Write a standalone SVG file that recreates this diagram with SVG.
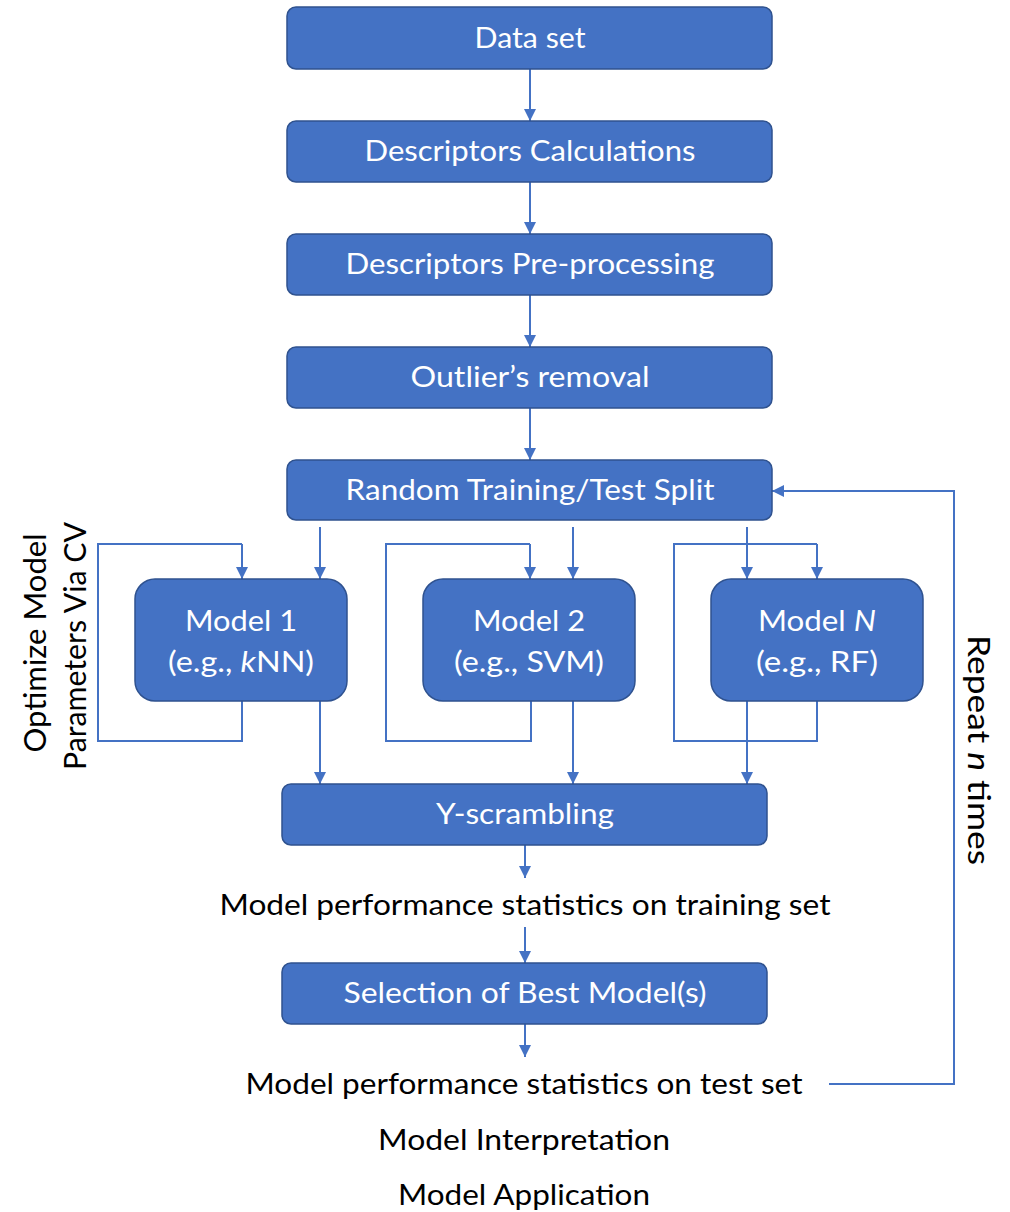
<svg xmlns="http://www.w3.org/2000/svg" width="1010" height="1212" viewBox="0 0 1010 1212">
  <style>
    .box { fill: #4472C4; stroke: #2F528F; stroke-width: 1.5; }
    .lbl { font-family: Lato, "Open Sans", "Liberation Sans", sans-serif; font-size: 28px; fill: #FFFFFF; text-anchor: middle; }
    .txt { font-family: Lato, "Open Sans", "Liberation Sans", sans-serif; font-size: 29px; fill: #000000; text-anchor: middle; }
    .side { font-family: Lato, "Open Sans", "Liberation Sans", sans-serif; font-size: 30px; fill: #000000; text-anchor: middle; }
    .wire { fill: none; stroke: #4472C4; stroke-width: 2; }
    .arr { fill: none; stroke: #4472C4; stroke-width: 2; marker-end: url(#head); }
  </style>
  <defs>
    <marker id="head" viewBox="0 0 10 10" refX="10" refY="5" markerWidth="6" markerHeight="6" markerUnits="strokeWidth" orient="auto">
      <path d="M0,0 L10,5 L0,10 z" fill="#4472C4"/>
    </marker>
  </defs>

  <rect width="1010" height="1212" fill="#FFFFFF"/>

  <!-- connectors -->
  <g id="connectors">
    <!-- main pipeline -->
    <path class="arr" d="M530,69 V121"/>
    <path class="arr" d="M530,182 V234"/>
    <path class="arr" d="M530,295 V347"/>
    <path class="arr" d="M530,408 V460"/>

    <!-- split to models -->
    <path class="arr" d="M320,527 V579"/>
    <path class="arr" d="M573,527 V579"/>
    <path class="arr" d="M747,527 V579"/>

    <!-- CV loops -->
    <path class="wire" d="M242,701 V741 H98 V544 H242"/>
    <path class="arr" d="M242,544 V579"/>
    <path class="wire" d="M531,701 V741 H386 V544 H530"/>
    <path class="arr" d="M530,544 V579"/>
    <path class="wire" d="M817,701 V741 H674 V544 H817"/>
    <path class="arr" d="M817,544 V579"/>

    <!-- models to Y-scrambling -->
    <path class="arr" d="M320,701 V784"/>
    <path class="arr" d="M573,701 V784"/>
    <path class="arr" d="M747,701 V784"/>

    <!-- lower pipeline -->
    <path class="arr" d="M525,845 V878"/>
    <path class="arr" d="M525,927 V963"/>
    <path class="arr" d="M525,1024 V1057"/>

    <!-- repeat loop -->
    <path class="arr" d="M829,1084 H954 V491 H772"/>
  </g>

  <g id="dataset">
    <rect class="box" x="287" y="7" width="485" height="62" rx="9"/>
    <text class="lbl" x="530" y="48" textLength="111" lengthAdjust="spacingAndGlyphs">Data set</text>
  </g>
  <g id="descriptors-calc">
    <rect class="box" x="287" y="121" width="485" height="61" rx="9"/>
    <text class="lbl" x="530" y="161" textLength="331" lengthAdjust="spacingAndGlyphs">Descriptors Calculations</text>
  </g>
  <g id="descriptors-pre">
    <rect class="box" x="287" y="234" width="485" height="61" rx="9"/>
    <text class="lbl" x="530" y="274" textLength="369" lengthAdjust="spacingAndGlyphs">Descriptors Pre-processing</text>
  </g>
  <g id="outliers">
    <rect class="box" x="287" y="347" width="485" height="61" rx="9"/>
    <text class="lbl" x="530" y="387" textLength="239" lengthAdjust="spacingAndGlyphs">Outlier’s removal</text>
  </g>
  <g id="split">
    <rect class="box" x="287" y="460" width="485" height="60" rx="9"/>
    <text class="lbl" x="530" y="500" textLength="369" lengthAdjust="spacingAndGlyphs">Random Training/Test Split</text>
  </g>

  <g id="model1">
    <rect class="box" x="135" y="579" width="212" height="122" rx="20"/>
    <text class="lbl" x="241" y="631" textLength="112" lengthAdjust="spacingAndGlyphs">Model 1</text>
    <text class="lbl" x="241" y="672" textLength="146" lengthAdjust="spacingAndGlyphs">(e.g., <tspan font-style="italic">k</tspan>NN)</text>
  </g>
  <g id="model2">
    <rect class="box" x="423" y="579" width="212" height="122" rx="20"/>
    <text class="lbl" x="529" y="631" textLength="112" lengthAdjust="spacingAndGlyphs">Model 2</text>
    <text class="lbl" x="529" y="672" textLength="150" lengthAdjust="spacingAndGlyphs">(e.g., SVM)</text>
  </g>
  <g id="modelN">
    <rect class="box" x="711" y="579" width="212" height="122" rx="20"/>
    <text class="lbl" x="817" y="631" textLength="118" lengthAdjust="spacingAndGlyphs">Model <tspan font-style="italic">N</tspan></text>
    <text class="lbl" x="817" y="672" textLength="122" lengthAdjust="spacingAndGlyphs">(e.g., RF)</text>
  </g>

  <g id="yscrambling">
    <rect class="box" x="282" y="784" width="485" height="61" rx="9"/>
    <text class="lbl" x="525" y="824" textLength="178" lengthAdjust="spacingAndGlyphs">Y-scrambling</text>
  </g>

  <g id="train-stats">
    <text class="txt" x="525" y="915" textLength="611" lengthAdjust="spacingAndGlyphs">Model performance statistics on training set</text>
  </g>

  <g id="selection">
    <rect class="box" x="282" y="963" width="485" height="61" rx="9"/>
    <text class="lbl" x="525" y="1003" textLength="363" lengthAdjust="spacingAndGlyphs">Selection of Best Model(s)</text>
  </g>

  <g id="test-stats">
    <text class="txt" x="524" y="1094" textLength="557" lengthAdjust="spacingAndGlyphs">Model performance statistics on test set</text>
  </g>
  <g id="interpretation">
    <text class="txt" x="524" y="1150" textLength="292" lengthAdjust="spacingAndGlyphs">Model Interpretation</text>
  </g>
  <g id="application">
    <text class="txt" x="524" y="1205" textLength="252" lengthAdjust="spacingAndGlyphs">Model Application</text>
  </g>

  <!-- side captions -->
  <g id="cv-caption">
    <text class="side" transform="translate(46,643) rotate(-90)" textLength="219" lengthAdjust="spacingAndGlyphs">Optimize Model</text>
    <text class="side" transform="translate(86,646) rotate(-90)" textLength="248" lengthAdjust="spacingAndGlyphs">Parameters Via CV</text>
  </g>
  <g id="repeat-caption">
    <text class="side" transform="translate(968,750) rotate(90)" textLength="230" lengthAdjust="spacingAndGlyphs">Repeat <tspan font-style="italic">n</tspan> times</text>
  </g>
</svg>
